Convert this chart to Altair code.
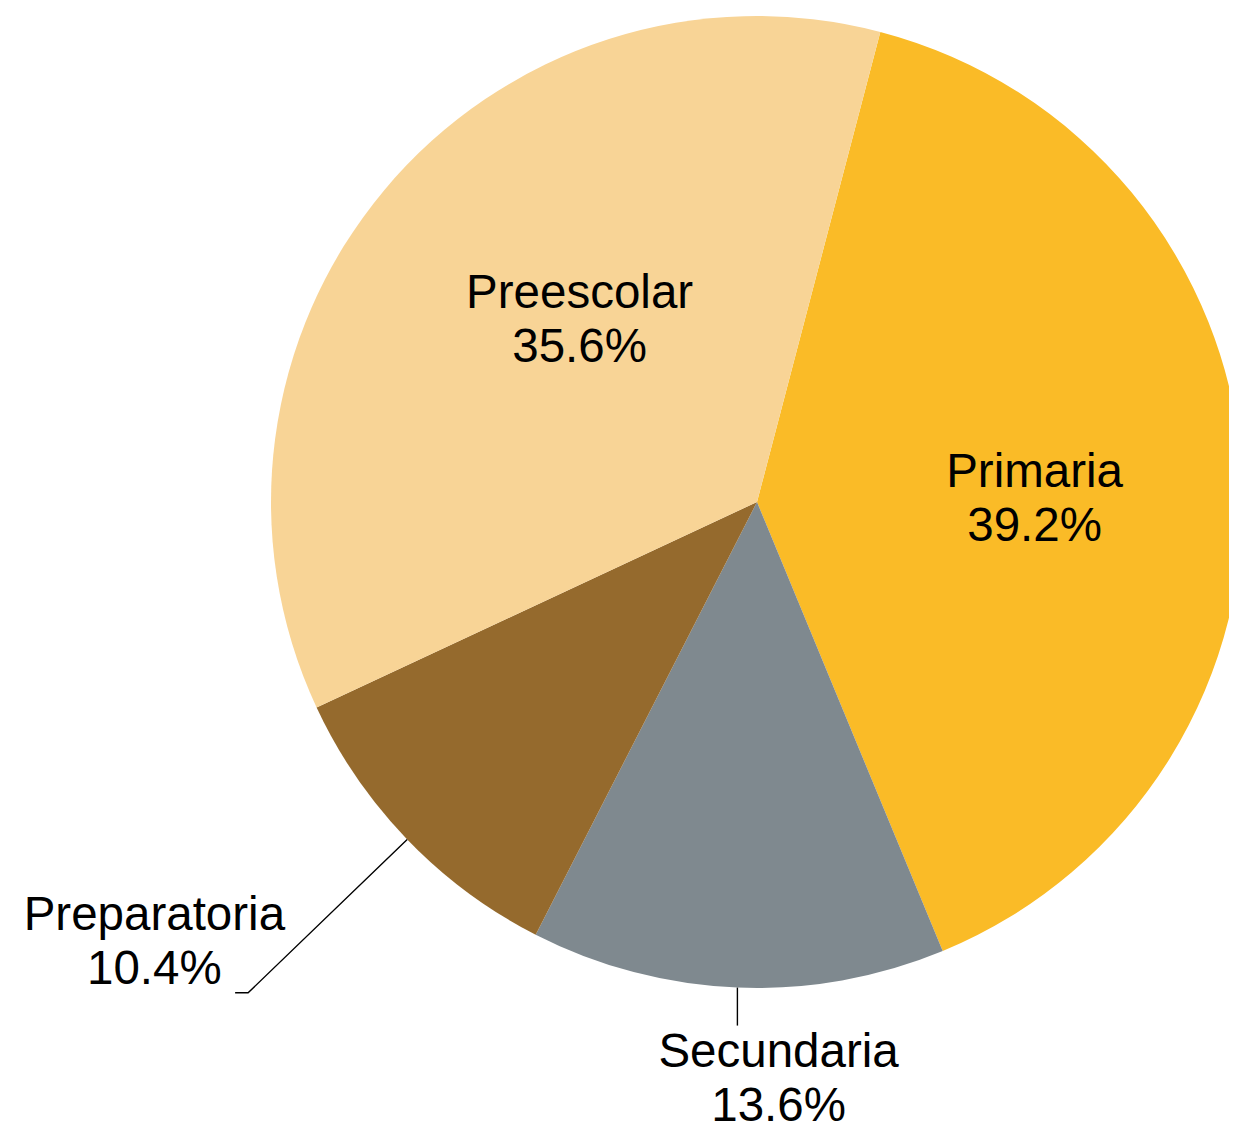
import math
import altair as alt
import pandas as pd

# ---- data ----
categories = ["Primaria", "Secundaria", "Preparatoria", "Preescolar"]
values = [39.2, 13.6, 10.4, 35.6]
pct_labels = ["39.2%", "13.6%", "10.4%", "35.6%"]
colors = ["#FABB27", "#7F898F", "#956A2D", "#F8D496"]

# ---- layout ----
W, H = 1221, 1116
CX, CY, R = 749, 494, 486
START_DEG = 14.7
FONT = "Liberation Sans"

# label anchor (first-line baseline) as (angle offset from slice middle in deg, radius px)
label_layout = {
    "Primaria": (0.8, 278),
    "Secundaria": (-4.5, 565),
    "Preparatoria": (8.6, 739),
    "Preescolar": (7.75, 263),
}
# leader lines for outside labels: (outer radius, horizontal elbow length, vertical?)
leaders = {
    "Preparatoria": (707, -13, False),
    "Secundaria": (524, 0, True),
}

total = sum(values)
start_rad = math.radians(START_DEG)
mids = {}
acc = 0.0
for c, v in zip(categories, values):
    mids[c] = start_rad + 2 * math.pi * (acc + v / 2) / total
    acc += v


def polar(angle, r):
    return CX + r * math.sin(angle), CY - r * math.cos(angle)


pie_df = pd.DataFrame({
    "category": categories,
    "value": values,
    "order": list(range(len(categories))),
})

lab_rows = []
for c, p in zip(categories, pct_labels):
    off, r = label_layout[c]
    x, y = polar(mids[c] + math.radians(off), r)
    lab_rows.append({"category": c, "text": f"{c}\n{p}", "lx": x, "ly": y})
lab_df = pd.DataFrame(lab_rows)

line_rows = []
for c, (r_out, elbow, vertical) in leaders.items():
    a = mids[c]
    x0, y0 = polar(a, R)
    x1, y1 = polar(a, r_out)
    if vertical:
        x1 = x0
    line_rows.append({"g": c, "k": 0, "lx": x0, "ly": y0})
    line_rows.append({"g": c, "k": 1, "lx": x1, "ly": y1})
    if elbow:
        line_rows.append({"g": c, "k": 2, "lx": x1 + elbow, "ly": y1})
line_df = pd.DataFrame(line_rows)

pie = alt.Chart(pie_df).mark_arc(radius=R).encode(
    theta=alt.Theta("value:Q", stack=True,
                    scale=alt.Scale(domain=[0, total], nice=False,
                                    range=[start_rad, start_rad + 2 * math.pi])),
    color=alt.Color("category:N", scale=alt.Scale(domain=categories, range=colors), legend=None),
    order=alt.Order("order:Q"),
    x=alt.value(CX),
    y=alt.value(CY),
)

lines = alt.Chart(line_df).mark_line(color="#000000", strokeWidth=1.4).encode(
    x=alt.X("lx:Q", scale=None),
    y=alt.Y("ly:Q", scale=None),
    detail="g:N",
    order="k:Q",
)

texts = alt.Chart(lab_df).mark_text(
    font=FONT, fontSize=47.5, lineHeight=54, align="center", baseline="alphabetic",
    lineBreak="\n", color="#000000",
).encode(
    x=alt.X("lx:Q", scale=None),
    y=alt.Y("ly:Q", scale=None),
    text="text:N",
)

chart = alt.layer(pie, lines, texts).properties(
    width=W, height=H, padding=0, autosize=alt.AutoSizeParams(type="none"),
).configure_view(stroke=None)

chart.save("out.html", embed_options={"renderer": "svg", "actions": False})
